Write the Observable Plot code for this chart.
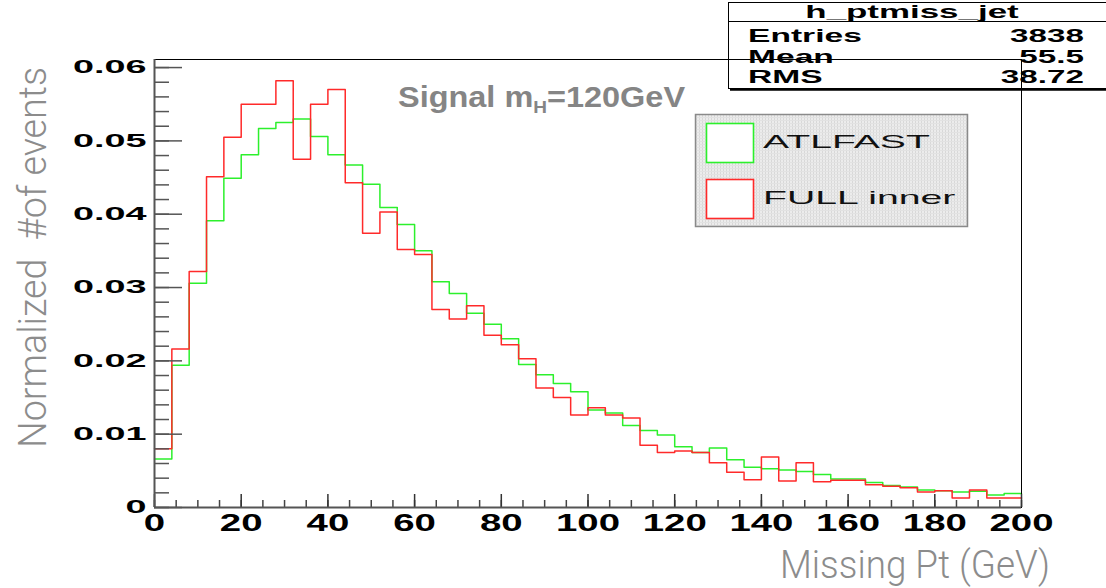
<!DOCTYPE html>
<html><head><meta charset="utf-8">
<script src="https://cdn.jsdelivr.net/npm/d3@7"></script>
<script src="https://cdn.jsdelivr.net/npm/@observablehq/plot@0.6"></script>
<style>
html,body{margin:0;padding:0;background:#fff;}
#chart{position:relative;width:1106px;height:588px;overflow:hidden;}
</style></head><body><div id="chart"></div>
<script>
// bin edges (GeV), 50 bins of width 4
const binEdges = [0,4,8,12,16,20,24,28,32,36,40,44,48,52,56,60,64,68,72,76,80,84,88,92,96,
  100,104,108,112,116,120,124,128,132,136,140,144,148,152,156,160,164,168,172,176,180,184,188,192,196,200];
const atlfast = [0.0066,0.0194,0.0306,0.0391,0.0449,0.0481,0.0517,0.0525,0.0530,0.0506,
  0.0481,0.0467,0.0441,0.0409,0.0386,0.0350,0.0308,0.0292,0.0265,0.0250,
  0.0230,0.0195,0.0181,0.0169,0.0158,0.0133,0.0129,0.0112,0.0105,0.0099,
  0.0083,0.0075,0.0081,0.0065,0.0055,0.0053,0.0051,0.0049,0.0045,0.0039,
  0.0039,0.0034,0.0030,0.0028,0.0024,0.0023,0.0021,0.0022,0.0017,0.0019];
const fullInner = [0.0080,0.0216,0.0322,0.0451,0.0505,0.0550,0.0550,0.0582,0.0475,0.0550,
  0.0570,0.0443,0.0374,0.0403,0.0352,0.0345,0.0270,0.0257,0.0275,0.0235,
  0.0222,0.0203,0.0163,0.0150,0.0126,0.0136,0.0126,0.0122,0.0085,0.0075,
  0.0077,0.0075,0.0061,0.0048,0.0038,0.0069,0.0036,0.0061,0.0035,0.0037,
  0.0037,0.0031,0.0029,0.0027,0.0021,0.0023,0.0013,0.0024,0.0013,0.0013];
const xTicks = [0,20,40,60,80,100,120,140,160,180,200];
const xTickLabels = ["0","20","40","60","80","100","120","140","160","180","200"];
const yTicks = [0,0.01,0.02,0.03,0.04,0.05,0.06];
const yTickLabels = ["0","0.01","0.02","0.03","0.04","0.05","0.06"];
const xMinorTicks = d3.range(0, 201, 5);
const yMinorTicks = d3.range(0, 0.0601, 0.002);
const seriesNames = ["ATLFAST","FULL inner"];
const seriesColors = ["#2cf02c","#ff2a2a"];
const statsTitle = "h_ptmiss_jet";
const statsRows = [["Entries","3838"],["Mean","55.5"],["RMS","38.72"]];
const xTitle = "Missing Pt (GeV)";
const yTitle = "Normalized  #of events";

const steps = vals => binEdges.map((x, i) => ({x, y: vals[Math.min(i, vals.length - 1)]}));

const svg = Plot.plot({
  width: 1106, height: 588,
  marginLeft: 154, marginRight: 85, marginTop: 59, marginBottom: 81,
  style: {background: "transparent", fontFamily: "'Liberation Sans', Arial, sans-serif", overflow: "visible"},
  x: {domain: [0, 200]},
  y: {domain: [0, 0.0611]},
  marks: [
    Plot.lineY(steps(atlfast), {x: "x", y: "y", curve: "step-after", stroke: seriesColors[0], strokeWidth: 1.5}),
    Plot.lineY(steps(fullInner), {x: "x", y: "y", curve: "step-after", stroke: seriesColors[1], strokeWidth: 1.5}),
    Plot.frame({stroke: "#000", strokeWidth: 1}),
    Plot.axisX(xMinorTicks, {tickSize: -7, fill: "none", stroke: "#444", strokeWidth: 1.5, label: null}),
    Plot.axisX(xTicks, {tickSize: -13, fill: "none", stroke: "#333", strokeWidth: 1.5, label: null}),
    Plot.axisY(yMinorTicks, {tickSize: -15, fill: "none", stroke: "#555", strokeWidth: 1.5, label: null}),
    Plot.axisY(yTicks, {tickSize: -28, fill: "none", stroke: "#555", strokeWidth: 1.5, label: null}),
    Plot.axisX(xTicks, {tickSize: 0, tickPadding: 6, fontSize: 24, fontWeight: "bold", fill: "#000", label: null,
      tickFormat: d => xTickLabels[xTicks.indexOf(d)]}),
    Plot.axisY(yTicks, {tickSize: 0, tickPadding: 8, fontSize: 18, fontWeight: "bold", fill: "#000", label: null,
      tickFormat: d => yTickLabels[yTicks.indexOf(d)]}),
    Plot.ruleX([0], {stroke: "#555", strokeWidth: 2}),
    Plot.ruleY([0], {stroke: "#555", strokeWidth: 2})
  ]
});
document.getElementById("chart").appendChild(svg);

// horizontal stretch of text (the original slide image is stretched)
function stretch(el, sx) {
  const t = el.getAttribute("transform");
  if (t) el.setAttribute("transform", t + ` scale(${sx},1)`);
  else {
    const x = +el.getAttribute("x") || 0, y = +el.getAttribute("y") || 0;
    el.setAttribute("x", 0); el.setAttribute("y", 0);
    el.setAttribute("transform", `translate(${x},${y}) scale(${sx},1)`);
  }
}
svg.querySelectorAll('g[aria-label="x-axis tick label"] text').forEach(t => stretch(t, 1.6));
svg.querySelectorAll('g[aria-label="y-axis tick label"] text').forEach(t => stretch(t, 2.1));

const S = d3.select(svg);
const font = "'Liberation Sans', Arial, sans-serif";

// Axis titles
S.append("text").text(yTitle)
  .attr("transform", "translate(46,448) rotate(-90)")
  .attr("text-anchor", "start")
  .attr("font-family", "Roboto, 'Liberation Sans', sans-serif").attr("font-weight", 300)
  .attr("font-size", 38).attr("fill", "#8c8c8c")
  .attr("textLength", 381).attr("lengthAdjust", "spacingAndGlyphs");
S.append("text").text(xTitle)
  .attr("x", 780).attr("y", 578)
  .attr("text-anchor", "start")
  .attr("font-family", "Roboto, 'Liberation Sans', sans-serif").attr("font-weight", 300)
  .attr("font-size", 39).attr("fill", "#8c8c8c")
  .attr("textLength", 270).attr("lengthAdjust", "spacingAndGlyphs");

// In-plot label
const sig = S.append("text").attr("transform", "translate(398,107) scale(1.12,1)")
  .attr("text-anchor", "start")
  .attr("font-family", font).attr("font-weight", "bold").attr("font-size", 29).attr("fill", "#858585");
sig.append("tspan").text("Signal m");
sig.append("tspan").text("H").attr("font-size", 17).attr("dy", 6);
sig.append("tspan").text("=120GeV").attr("dy", -6);

// Stats box (transparent, as in the ROOT canvas)
const st = S.append("g");
st.append("rect").attr("x", 728.5).attr("y", 2.5).attr("width", 400).attr("height", 86)
  .attr("fill", "none").attr("stroke", "#000").attr("stroke-width", 1);
st.append("line").attr("x1", 730).attr("x2", 1106).attr("y1", 89.5).attr("y2", 89.5)
  .attr("stroke", "#000").attr("stroke-width", 2.5);
st.append("line").attr("x1", 728).attr("x2", 1106).attr("y1", 21.5).attr("y2", 21.5)
  .attr("stroke", "#000").attr("stroke-width", 1);
st.append("text").text(statsTitle).attr("transform", "translate(912,18) scale(1.94,1)")
  .attr("text-anchor", "middle").attr("font-family", font).attr("font-weight", "bold").attr("font-size", 18);
statsRows.forEach((r, i) => {
  const y = 42 + i * 20.7;
  st.append("text").text(r[0]).attr("transform", `translate(748,${y}) scale(1.92,1)`)
    .attr("text-anchor", "start")
    .attr("font-family", font).attr("font-weight", "bold").attr("font-size", 17.5);
  st.append("text").text(r[1]).attr("transform", `translate(1084,${y}) scale(1.9,1)`)
    .attr("text-anchor", "end").attr("font-family", font).attr("font-weight", "bold").attr("font-size", 17.5);
});

// Legend
const defs = S.append("defs");
const pat = defs.append("pattern").attr("id", "lgfill").attr("patternUnits", "userSpaceOnUse")
  .attr("width", 3).attr("height", 3);
pat.append("rect").attr("width", 3).attr("height", 3).attr("fill", "#ececec");
pat.append("rect").attr("width", 1).attr("height", 3).attr("fill", "#d8d8d8");
pat.append("rect").attr("width", 3).attr("height", 1).attr("fill", "#e2e2e2");
const lg = S.append("g");
lg.append("rect").attr("x", 695.5).attr("y", 114.5).attr("width", 272).attr("height", 112)
  .attr("fill", "url(#lgfill)").attr("stroke", "#8a8a8a").attr("stroke-width", 1.5);
seriesNames.forEach((name, i) => {
  const y0 = 123 + i * 56;
  lg.append("rect").attr("x", 706.5).attr("y", y0 + 0.5).attr("width", 47).attr("height", 39)
    .attr("fill", "#fff").attr("stroke", seriesColors[i]).attr("stroke-width", 1.6);
  lg.append("text").text(name).attr("transform", `translate(763,${y0 + 24.5}) scale(2.24,1)`)
    .attr("text-anchor", "start")
    .attr("font-family", font).attr("font-size", 17.5).attr("fill", "#111");
});
</script></body></html>
